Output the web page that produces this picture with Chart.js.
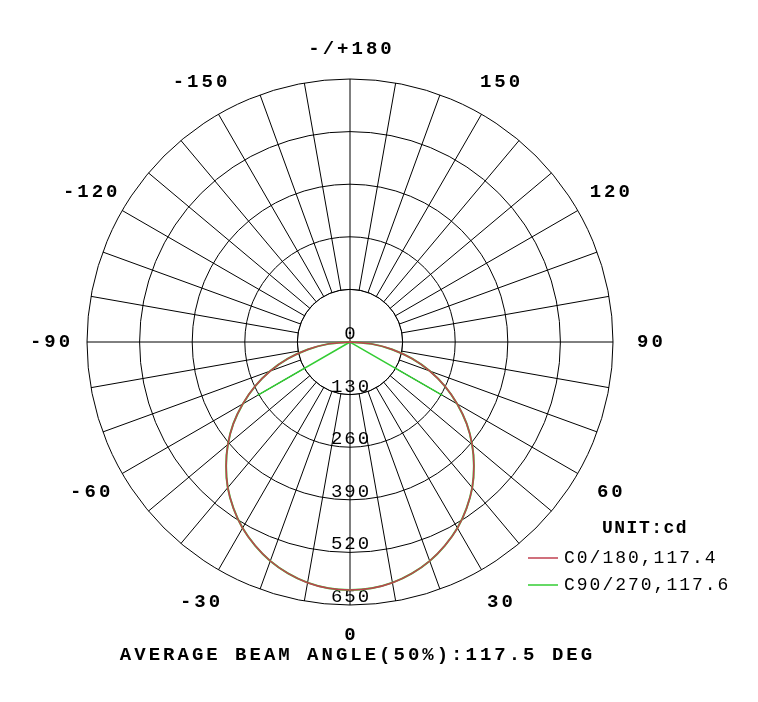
<!DOCTYPE html>
<html><head><meta charset="utf-8">
<script src="https://cdn.jsdelivr.net/npm/chart.js@4"></script>
<style>html,body{margin:0;padding:0;background:#fff}#w{width:758px;height:702px}</style>
</head><body><div id="w"><canvas id="c" width="758" height="702"></canvas></div>
<script>
// angles clockwise from bottom (0°), step 5°
const angles = Array.from({length:72},(_,i)=>i*5);
const angleLabels = ["0","-30","-60","-90","-120","-150","-/+180","150","120","90","60","30"];
const ringTicks = [0,130,260,390,520,650];
const half = [613,611,604,592,576,555,531,502,470,433,394,352,306,259,210,159,106,53,0];
const c0_180 = [613,611,604,592,576,555,531,502,470,433,394,352,306,259,210,159,106,53,0];
function mirror(h){const a=new Array(72).fill(0);for(let i=0;i<h.length;i++){a[i]=h[i];a[(72-i)%72]=h[i];}return a;}
const c90_270 = mirror(half);
const c0v = mirror(c0_180);
const chord = new Array(72).fill(0); chord[12]=264; chord[60]=264;
const mono = '"Liberation Mono", "DejaVu Sans Mono", monospace';

function txt(ctx,t,x,y,sp){ctx.letterSpacing=sp+'px';const w=ctx.measureText(t).width;
  if(ctx.textAlign==='center'){ctx.textAlign='left';ctx.fillText(t,x-w/2+sp/2,y);ctx.textAlign='center';}else ctx.fillText(t,x,y);}

const overlay = {
  id:'overlay',
  beforeDatasetsDraw(ch){
    const s=ch.scales.r, ctx=ch.ctx, cx=s.xCenter, cy=s.yCenter;
    const r0 = s.getDistanceFromCenterForValue(130);
    ctx.save();
    ctx.fillStyle='#fff';ctx.beginPath();ctx.arc(cx,cy,r0-0.5,0,Math.PI*2);ctx.fill();
    ctx.strokeStyle='#000';ctx.lineWidth=1;ctx.beginPath();ctx.arc(cx,cy,r0,0,Math.PI*2);ctx.stroke();
    ctx.beginPath();ctx.moveTo(cx-r0,cy);ctx.lineTo(cx+r0,cy);ctx.moveTo(cx,cy-r0);ctx.lineTo(cx,cy+r0);ctx.stroke();
    ctx.fillStyle='#000';ctx.font='19px '+mono;ctx.textAlign='center';ctx.textBaseline='middle';
    ringTicks.forEach(v=>{txt(ctx,String(v),cx,cy+s.getDistanceFromCenterForValue(v)-8,2);});
    ctx.restore();
  },
  afterDraw(ch){
    const s=ch.scales.r, ctx=ch.ctx;
    ctx.save();ctx.fillStyle='#000';ctx.font='bold 19px '+mono;ctx.textAlign='center';ctx.textBaseline='middle';
    angleLabels.forEach((t,k)=>{const off=(k%6===0)?30:37;const p=s.getPointPosition(k*6, s.drawingArea+off);txt(ctx,t,p.x,p.y,3);});
    txt(ctx,'AVERAGE BEAM ANGLE(50%):117.5 DEG',356,655,3);
    ctx.textAlign='left';
    ctx.font='bold 18px '+mono;
    txt(ctx,'UNIT:cd',602,528,1.5);
    ctx.strokeStyle='#c04050';ctx.lineWidth=1.5;ctx.letterSpacing='0px';ctx.beginPath();ctx.moveTo(528,558);ctx.lineTo(558,558);ctx.stroke();
    ctx.strokeStyle='#33cc33';ctx.beginPath();ctx.moveTo(528,585);ctx.lineTo(558,585);ctx.stroke();
    ctx.font='18px '+mono;
    txt(ctx,'C0/180,117.4',564,558,2);
    txt(ctx,'C90/270,117.6',564,585,2);
    ctx.restore();
  }
};

new Chart(document.getElementById('c'),{
  type:'radar',
  data:{labels:angles.map(String),datasets:[
    {data:c0v,borderColor:'#c04050',borderWidth:1.5,pointRadius:0,fill:false,tension:0.3},
    {data:c90_270,borderColor:'#33cc33',borderWidth:2,pointRadius:0,fill:false,tension:0.3},
    {data:chord,borderColor:'#33cc33',borderWidth:1.5,pointRadius:0,fill:false,tension:0}
  ]},
  options:{
    responsive:false,animation:false,
    layout:{padding:{left:87,right:144,top:78,bottom:96}},
    plugins:{legend:{display:false},tooltip:{enabled:false}},
    scales:{r:{
      min:0,max:650,startAngle:180,
      ticks:{stepSize:130,display:false},
      grid:{circular:true,color:'#000',lineWidth:1},
      angleLines:{color:(c)=>c.index%2===0?'#000':'rgba(0,0,0,0)',lineWidth:1},
      pointLabels:{display:false}
    }}
  },
  plugins:[overlay]
});
</script></body></html>
